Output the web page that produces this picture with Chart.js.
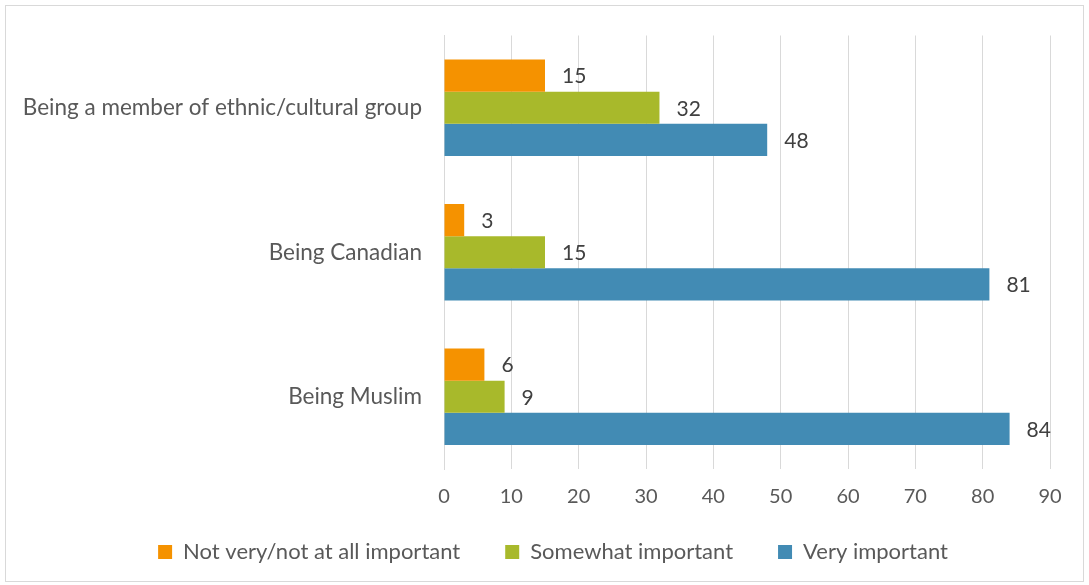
<!DOCTYPE html>
<html>
<head>
<meta charset="utf-8">
<script src="https://cdn.jsdelivr.net/npm/chart.js@4.4.1/dist/chart.umd.min.js"></script>
<style>
  html, body { margin: 0; padding: 0; background: #fff; }
  #frame {
    position: absolute; left: 5px; top: 5px;
    width: 1077px; height: 575px;
    border: 1px solid #d9d9d9;
  }
  #wrap { position: absolute; left: 0; top: 0; width: 1089px; height: 585px; }
</style>
</head>
<body>
<div id="frame"></div>
<div id="wrap"><canvas id="chart" width="1089" height="585"></canvas></div>
<script>
const categories = [
    'Being a member of ethnic/cultural group',
    'Being Canadian',
    'Being Muslim'
];
const seriesNames = ['Not very/not at all important', 'Somewhat important', 'Very important'];
const notImportant = [15, 3, 6];
const somewhatImportant = [32, 15, 9];
const veryImportant = [48, 81, 84];
const xTicks = [0, 10, 20, 30, 40, 50, 60, 70, 80, 90];

const colors = ['#F59200', '#A8B92B', '#428BB4'];
const FONT = 'Lato, "Open Sans", sans-serif';

const PLOT_LEFT = 444;
const PLOT_BOTTOM = 469;
const AXIS_HEIGHT = 45;
const LEGEND_GAP = 45;
const LEGEND_FONT = 22;
const LEGEND_Y = 552;   // vertical centre of legend row
const LEGEND_CX = 553;  // horizontal centre of legend row

// Value labels just past the end of each bar
const valueLabels = {
    id: 'valueLabels',
    afterDatasetsDraw(chart) {
        const ctx = chart.ctx;
        ctx.save();
        ctx.font = '21px ' + FONT;
        ctx.fillStyle = '#404040';
        ctx.textAlign = 'left';
        ctx.textBaseline = 'middle';
        chart.data.datasets.forEach((ds, i) => {
            chart.getDatasetMeta(i).data.forEach((bar, j) => {
                ctx.fillText(String(ds.data[j]), bar.x + 17, bar.y + 1);
            });
        });
        ctx.restore();
    }
};

// Put the legend row where it belongs; the wide item gap would otherwise push it down
const placeLegend = {
    id: 'placeLegend',
    afterLayout(chart) {
        const lg = chart.legend;
        const top = LEGEND_Y - LEGEND_GAP - LEGEND_FONT / 2;
        const dx = LEGEND_CX - (lg.left + lg.right) / 2;
        lg.top = top;
        lg.bottom = LEGEND_Y + LEGEND_FONT;
        lg.height = lg.bottom - lg.top;
        lg.left += dx; lg.right += dx;
    }
};

new Chart(document.getElementById('chart').getContext('2d'), {
    type: 'bar',
    data: {
        labels: categories,
        datasets: [notImportant, somewhatImportant, veryImportant].map((d, i) => ({
            label: seriesNames[i],
            data: d,
            backgroundColor: colors[i],
            borderWidth: 0,
            categoryPercentage: 0.668,
            barPercentage: 1
        }))
    },
    options: {
        indexAxis: 'y',
        responsive: false,
        animation: false,
        layout: { padding: { top: 35, right: 39, left: 0, bottom: 0 } },
        plugins: {
            tooltip: { enabled: false },
            legend: {
                position: 'bottom',
                maxHeight: 585 - PLOT_BOTTOM - AXIS_HEIGHT,
                labels: {
                    boxWidth: 14,
                    boxHeight: 14,
                    padding: LEGEND_GAP,
                    color: '#595959',
                    font: { family: FONT, size: LEGEND_FONT }
                }
            }
        },
        scales: {
            x: {
                min: 0,
                max: 90,
                afterBuildTicks(scale) { scale.ticks = xTicks.map(v => ({ value: v })); },
                afterFit(scale) { scale.height = AXIS_HEIGHT; },
                grid: { color: '#d9d9d9', lineWidth: 1, drawTicks: false },
                border: { display: false },
                ticks: { padding: 16, color: '#595959', font: { family: FONT, size: 20 } }
            },
            y: {
                afterFit(scale) { scale.width = PLOT_LEFT; },
                grid: { display: false, drawTicks: false },
                border: { display: true, color: '#d9d9d9', width: 1 },
                ticks: { padding: 22, color: '#595959', font: { family: FONT, size: 22.5 } }
            }
        }
    },
    plugins: [valueLabels, placeLegend]
});
</script>
</body>
</html>
